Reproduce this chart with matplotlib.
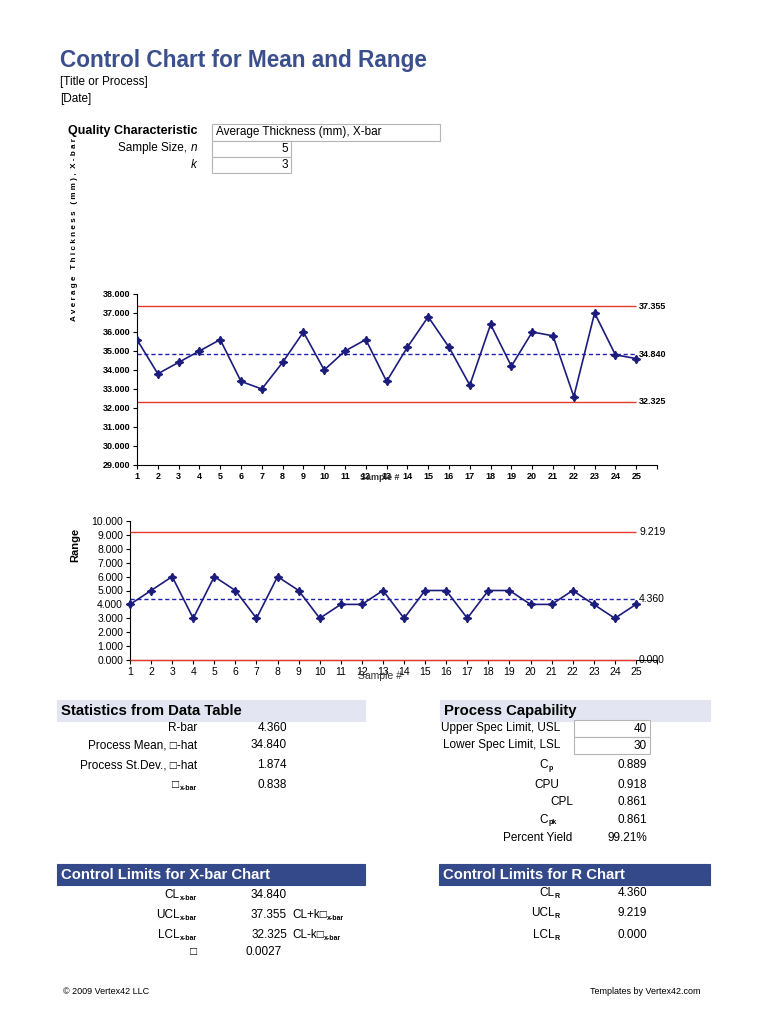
import matplotlib
matplotlib.use("Agg")
import matplotlib.pyplot as plt
from matplotlib.patches import Rectangle

plt.rcParams['font.family'] = ['Liberation Sans', 'DejaVu Sans']

W, H = 768, 1024

# chart data
samples = list(range(1, 26))
xbar = [35.6, 33.8, 34.4, 35.0, 35.6, 33.4, 33.0, 34.4, 36.0, 34.0,
        35.0, 35.6, 33.4, 35.2, 36.8, 35.2, 33.2, 36.4, 34.2, 36.0,
        35.8, 32.6, 37.0, 34.8, 34.6]
ranges = [4, 5, 6, 3, 6, 5, 3, 6, 5, 3, 4, 4, 5, 3, 5, 5, 3, 5, 5, 4,
          4, 5, 4, 3, 4]
xbar_limits = [37.355, 34.840, 32.325]   # UCL, CL, LCL
r_limits = [9.219, 4.360, 0.000]

# table data
stats_labels = ["R-bar", "Process Mean, \u25a1-hat", "Process St.Dev., \u25a1-hat"]
stats_values = ["4.360", "34.840", "1.874"]
sigma_xbar = "0.838"
usl, lsl = "40", "30"
cap_values = ["0.889", "0.918", "0.861", "0.861", "99.21%"]
xlim_values = ["34.840", "37.355", "32.325", "0.0027"]
rlim_values = ["4.360", "9.219", "0.000"]

NAVY = "#1c1c7c"
RED = "#e23b2e"
TITLE = "#3a4f8c"
BAND_LIGHT = "#e3e6f2"
BAND_DARK = "#34498a"

fig = plt.figure(figsize=(W / 100, H / 100), dpi=100)
renderer = fig.canvas.get_renderer()


def px(x, y):
    return x / W, 1 - y / H


def t(x, y, s, **kw):
    kw.setdefault("fontsize", 8.5)
    kw.setdefault("va", "center")
    return fig.text(*px(x, y), s, **kw)


def width(txt):
    return txt.get_window_extent(renderer).width


def box(x0, y0, x1, y1, fc="white", ec="#b5b5b5"):
    fig.add_artist(Rectangle(px(x0, y1), (x1 - x0) / W, (y1 - y0) / H,
                             transform=fig.transFigure, fc=fc, ec=ec, lw=0.8))


def sub_label(x_end, y, main, sub, size=8.5):
    # right aligned label with a small subscript at the end
    s = t(x_end, y + 3, sub, ha="right", fontsize=5, fontweight="bold")
    t(x_end - width(s) - 0.5, y, main, ha="right", fontsize=size)


# header
t(60, 61, "Control Chart for Mean and Range", fontsize=16.3, fontweight="bold", color=TITLE)
t(60, 82, "[Title or Process]")
t(60, 99, "[Date]")

t(197, 131, "Quality Characteristic", ha="right", fontweight="bold", fontsize=9)
box(212, 124, 440, 141)
t(216, 132, "Average Thickness (mm), X-bar")
n_txt = t(197, 148, "n", ha="right", style="italic")
t(197 - width(n_txt), 148, "Sample Size, ", ha="right")
box(212, 141, 291, 157)
t(288, 149, "5", ha="right")
box(212, 157, 291, 173)
t(288, 165, "3", ha="right")
t(197, 165, "k", ha="right", style="italic")

# ---- X-bar chart ----
ax1 = fig.add_axes([137 / W, 1 - 465 / H, 520 / W, 171 / H])
ax1.plot(samples, xbar, color=NAVY, lw=1.2, marker=(4, 1, 0), ms=6, zorder=3)
ax1.hlines([xbar_limits[0], xbar_limits[2]], 1, 25, color=RED, lw=1)
ax1.hlines(xbar_limits[1], 1, 25, color="#2020b0", lw=1, linestyles=(0, (3, 2)))
for v in xbar_limits:
    ax1.text(25.15, v, f"{v:.3f}", fontsize=6.5, fontweight="bold", va="center")
ax1.set_xlim(1, 26)
ax1.set_ylim(29, 38)
ax1.set_yticks(range(29, 39))
ax1.set_yticklabels([f"{v:.3f}" for v in range(29, 39)], fontsize=6.5, fontweight="bold")
ax1.set_xticks(range(1, 27))
ax1.set_xticklabels([str(s) for s in samples] + [""], fontsize=6.5, fontweight="bold")
t(380, 478, "Sample #", ha="center", fontsize=6.5, fontweight="bold", color="#333333")
fig.text(*px(75, 230), "A v e r a g e   T h i c k n e s s   ( m m ) ,  X - b a r",
         rotation=90, ha="center", va="center", fontsize=5.9, fontweight="bold")

# ---- Range chart ----
ax2 = fig.add_axes([130 / W, 1 - 660 / H, 527 / W, 139 / H])
ax2.plot(samples, ranges, color=NAVY, lw=1.2, marker=(4, 1, 0), ms=6, zorder=3, clip_on=False)
ax2.hlines([r_limits[0], r_limits[2]], 1, 25, color=RED, lw=1, clip_on=False, zorder=4)
ax2.hlines(r_limits[1], 1, 25, color="#2020b0", lw=1, linestyles=(0, (3, 2)))
for v in r_limits:
    ax2.text(25.15, v, f"{v:.3f}", fontsize=7.5, va="center")
ax2.set_xlim(1, 26)
ax2.set_ylim(0, 10)
ax2.set_yticks(range(0, 11))
ax2.set_yticklabels([f"{v:.3f}" for v in range(0, 11)], fontsize=7.5)
ax2.set_xticks(range(1, 27))
ax2.set_xticklabels([str(s) for s in samples] + [""], fontsize=7.5)
t(380, 676, "Sample #", ha="center", fontsize=7.5, color="#333333")
fig.text(*px(75, 545), "Range", rotation=90, ha="center", va="center",
         fontsize=8, fontweight="bold")

for ax in (ax1, ax2):
    ax.spines["top"].set_visible(False)
    ax.spines["right"].set_visible(False)
    ax.spines["left"].set_linewidth(0.8)
    ax.spines["bottom"].set_linewidth(0.8)
    ax.tick_params(direction="out", length=3, width=0.8, pad=2)

# ---- Statistics from Data Table ----
box(57, 700, 365, 721, fc=BAND_LIGHT, ec=BAND_LIGHT)
t(61, 711, "Statistics from Data Table", fontsize=10.7, fontweight="bold")
for y, lab, val in zip([728, 745, 765], stats_labels, stats_values):
    t(197, y, lab, ha="right")
    t(287, y, val, ha="right")
sub_label(197, 785, "\u25a1", "x-bar")
t(287, 785, sigma_xbar, ha="right")

# ---- Process Capability ----
box(440, 700, 710, 721, fc=BAND_LIGHT, ec=BAND_LIGHT)
t(444, 711, "Process Capability", fontsize=10.7, fontweight="bold")
t(560, 728, "Upper Spec Limit, USL", ha="right")
box(574, 720, 650, 737)
t(647, 729, usl, ha="right")
t(560, 745, "Lower Spec Limit, LSL", ha="right")
box(574, 737, 650, 754)
t(647, 746, lsl, ha="right")
sub_label(553, 765, "C", "p")
t(559, 785, "CPU", ha="right")
t(573, 802, "CPL", ha="right")
sub_label(557, 820, "C", "pk")
t(572, 838, "Percent Yield", ha="right")
for y, val in zip([765, 785, 802, 820, 838], cap_values):
    t(647, y, val, ha="right")

# ---- Control Limits for X-bar Chart ----
box(57, 864, 365, 885, fc=BAND_DARK, ec=BAND_DARK)
t(61, 875, "Control Limits for X-bar Chart", fontsize=10.7, fontweight="bold", color="white")
for y, main in zip([895, 915, 935], ["CL", "UCL", "LCL"]):
    sub_label(197, y, main, "x-bar")
t(197, 952, "\u25a1", ha="right")
for y, val in zip([895, 915, 935], xlim_values[:3]):
    t(287, y, val, ha="right")
t(245, 952, xlim_values[3], ha="left")
for y, main in zip([915, 935], ["CL+k\u25a1", "CL-k\u25a1"]):
    a = t(292, y, main, ha="left")
    t(292 + width(a) + 0.5, y + 3, "x-bar", ha="left", fontsize=5, fontweight="bold")

# ---- Control Limits for R Chart ----
box(439, 864, 710, 885, fc=BAND_DARK, ec=BAND_DARK)
t(443, 875, "Control Limits for R Chart", fontsize=10.7, fontweight="bold", color="white")
for y, main, val in zip([893, 913, 935], ["CL", "UCL", "LCL"], rlim_values):
    sub_label(560, y, main, "R")
    t(647, y, val, ha="right")

# footer
t(63, 991, "\u00a9 2009 Vertex42 LLC", fontsize=6.5)
t(700, 991, "Templates by Vertex42.com", ha="right", fontsize=6.5)

fig.savefig("out.png", dpi=100)
